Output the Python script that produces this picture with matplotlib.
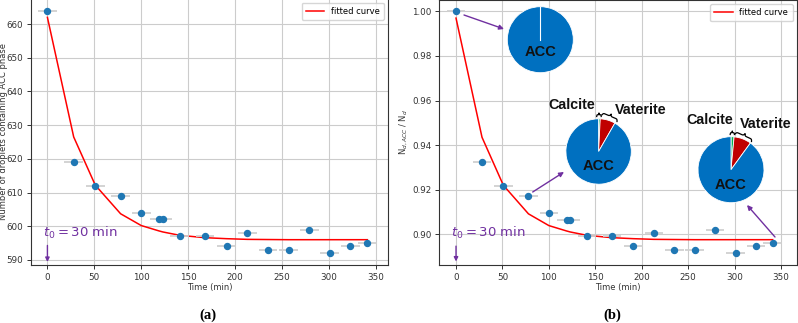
import numpy as np
import matplotlib
matplotlib.use('Agg')
import matplotlib.pyplot as plt
from matplotlib.lines import Line2D

# ---------------- data ----------------
time_min = [0, 28, 51, 78, 100, 119, 123, 141, 168, 191, 213, 235, 257, 279, 301, 323, 341]
n_droplets = [664, 619, 612, 609, 604, 602, 602, 597, 597, 594, 598, 593, 593, 599, 592, 594, 595]
time_err = [10, 10, 10, 10, 10, 10, 10, 10, 10, 10, 10, 10, 10, 10, 10, 10, 10]
fit_curve = [662.0, 626.5, 612.2, 603.7, 600.2, 598.6, 598.3, 597.3, 596.6, 596.3,
             596.1, 596.05, 596.0, 596.0, 596.0, 596.0, 596.0]
ratio = [v / n_droplets[0] for v in n_droplets]
fit_ratio = [v / n_droplets[0] for v in fit_curve]

pie_labels = ['Calcite', 'Vaterite', 'ACC']
pie_t0 = [0.0, 0.0, 100.0]
pie_t78 = [0.8, 7.5, 91.7]
pie_t341 = [1.5, 8.5, 90.0]
pie_colors = ['#00B050', '#C00000', '#0070C0']

PURPLE = '#7030A0'
W, H = 798, 323

fig = plt.figure(figsize=(W / 100, H / 100), dpi=100)


def fy(py):
    return H - py


def style_axes(ax):
    ax.grid(True, color='#cccccc', linewidth=0.8)
    ax.set_axisbelow(True)
    ax.tick_params(labelsize=6.3, length=3, width=0.7, colors='#333333', pad=2.5)
    for s in ax.spines.values():
        s.set_color('#333333')
        s.set_linewidth(0.8)


# ---------------- panel (a) ----------------
axA = fig.add_axes([31 / W, 57.7 / H, 357 / W, 266.8 / H])
style_axes(axA)
axA.errorbar(time_min, n_droplets, xerr=time_err, fmt='o', color='#1f77b4',
             ecolor='#d0d0d0', elinewidth=1.3, ms=4.3, capsize=0, zorder=3)
axA.plot(time_min, fit_curve, color='red', lw=1.1, label='fitted curve', zorder=2)
axA.set_xlim(-17.5, 363)
axA.set_ylim(588.4, 667.6)
axA.set_xticks([0, 50, 100, 150, 200, 250, 300, 350])
axA.set_yticks([590, 600, 610, 620, 630, 640, 650, 660])
axA.set_xlabel('Time (min)', fontsize=6, labelpad=1, color='#333333')
axA.set_ylabel('Number of droplets containing ACC phase', fontsize=6, color='#333333')
axA.yaxis.set_label_coords(-0.065, 0.5)
axA.legend(loc='upper right', fontsize=6, handlelength=2.2, borderpad=0.5)
axA.text(-5, 598, r'$t_0 = 30$ min', color=PURPLE, fontsize=9.5, va='center', ha='left')
axA.annotate('', xy=(0, 589.4), xytext=(0, 594.3),
             arrowprops=dict(arrowstyle='-|>', color=PURPLE, lw=1, mutation_scale=6,
                             shrinkA=0, shrinkB=0))

# ---------------- panel (b) ----------------
axB = fig.add_axes([439.3 / W, 57.7 / H, 357.4 / W, 265.5 / H])
style_axes(axB)
axB.errorbar(time_min, ratio, xerr=time_err, fmt='o', color='#1f77b4',
             ecolor='#d0d0d0', elinewidth=1.3, ms=4.3, capsize=0, zorder=3)
axB.plot(time_min, fit_ratio, color='red', lw=1.1, label='fitted curve', zorder=2)
axB.set_xlim(-18, 366.9)
axB.set_ylim(0.8861, 1.0052)
axB.set_xticks([0, 50, 100, 150, 200, 250, 300, 350])
axB.set_yticks([0.90, 0.92, 0.94, 0.96, 0.98, 1.00])
axB.set_yticklabels(['0.90', '0.92', '0.94', '0.96', '0.98', '1.00'])
axB.set_xlabel('Time (min)', fontsize=6, labelpad=1, color='#333333')
axB.set_ylabel(r'N$_{d,ACC}$ / N$_d$', fontsize=6, color='#333333')
axB.yaxis.set_label_coords(-0.083, 0.5)
axB.legend(loc='upper right', fontsize=6, handlelength=2.2, borderpad=0.5)
axB.text(-5.7, 0.9005, r'$t_0 = 30$ min', color=PURPLE, fontsize=9.5, va='center', ha='left')
axB.annotate('', xy=(0, 0.8878), xytext=(0, 0.8947),
             arrowprops=dict(arrowstyle='-|>', color=PURPLE, lw=1, mutation_scale=6,
                             shrinkA=0, shrinkB=0))

# arrows from points to pies (figure pixels)
for (x0, y0, x1, y1) in [(464, 15, 504, 29), (532.7, 192, 564, 172), (775, 237, 747, 205)]:
    axB.annotate('', xy=(x1, fy(y1)), xycoords='figure pixels',
                 xytext=(x0, fy(y0)), textcoords='figure pixels',
                 arrowprops=dict(arrowstyle='-|>', color=PURPLE, lw=1, mutation_scale=7,
                                 shrinkA=0, shrinkB=0))


# ---------------- pies ----------------
def add_pie(cx, cy, r, vals, label_dy):
    pad = 1.06
    ax = fig.add_axes([(cx - r * pad) / W, (fy(cy) - r * pad) / H, 2 * r * pad / W, 2 * r * pad / H])
    nz = [(v, c) for v, c in zip(vals, pie_colors) if v > 0]
    ax.pie([v for v, c in nz], colors=[c for v, c in nz], startangle=90, counterclock=False,
           radius=1, wedgeprops=dict(edgecolor='white', linewidth=0.6))
    ax.set_xlim(-pad, pad)
    ax.set_ylim(-pad, pad)
    ax.set_aspect('equal')
    ax.axis('off')
    if len(nz) == 1:
        ax.plot([0, 0], [0, 1], color='white', lw=0.8)
    ax.text(0, -label_dy / r, 'ACC', ha='center', va='center', fontsize=10.5,
            fontweight='bold', family='Liberation Sans', color='#111111')
    return ax


add_pie(540.3, 39.7, 33, pie_t0, 12)
add_pie(598.6, 151.5, 32.7, pie_t78, 15)
add_pie(731, 169.7, 33, pie_t341, 15)


def brace(p1, p2, h, beta=40, lw=0.9):
    x1, y1 = p1
    x2, y2 = p2
    d = np.array([x2 - x1, y2 - y1], float)
    L = np.hypot(*d)
    d /= L
    n = np.array([d[1], -d[0]])
    if n[1] > 0:
        n = -n
    half = np.linspace(0, 0.5, 60)
    yh = 1 / (1 + np.exp(-beta * half)) + 1 / (1 + np.exp(-beta * (half - 0.5)))
    u = np.concatenate([half, half[::-1] * -1 + 1])
    v = (np.concatenate([yh, yh[::-1]]) - 0.5) * h
    xs = x1 + u * L * d[0] + v * n[0]
    ys = y1 + u * L * d[1] + v * n[1]
    fig.add_artist(Line2D(xs / W, fy(ys) / H, transform=fig.transFigure, color='black', lw=lw))


brace((596.7, 116.5), (601.2, 116.5), 3.5, beta=30)
brace((601.8, 115), (617, 121.5), 4.5)
brace((730.2, 134.5), (734.4, 134.5), 3.5, beta=30)
brace((735, 134), (751.5, 141.5), 4.5)

lab_kw = dict(fontsize=10.3, fontweight='bold', family='Liberation Sans', color='#111111', va='center')
fig.text(595 / W, fy(105) / H, 'Calcite', ha='right', **lab_kw)
fig.text(615 / W, fy(110) / H, 'Vaterite', ha='left', **lab_kw)
fig.text(733 / W, fy(120) / H, 'Calcite', ha='right', **lab_kw)
fig.text(740 / W, fy(124) / H, 'Vaterite', ha='left', **lab_kw)

# subcaptions
cap_kw = dict(fontsize=10.5, fontweight='bold', family='Liberation Serif', ha='center', va='center')
fig.text(208 / W, fy(315) / H, '(a)', **cap_kw)
fig.text(612 / W, fy(315) / H, '(b)', **cap_kw)

fig.savefig('out.png', dpi=100)
